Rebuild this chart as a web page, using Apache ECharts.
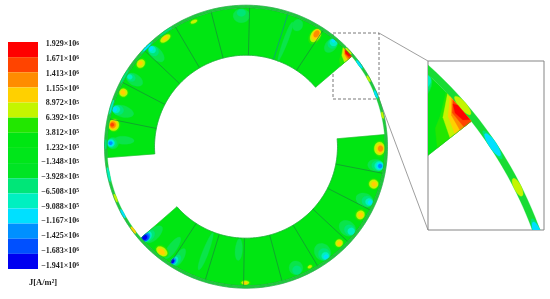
<!DOCTYPE html>
<html>
<head>
<meta charset="utf-8">
<style>
  html, body { margin: 0; padding: 0; background: #fff; }
  #main { width: 550px; height: 299px; filter: blur(0.35px); }
</style>
<script src="https://cdn.jsdelivr.net/npm/echarts@6/dist/echarts.min.js"></script>
</head>
<body>
<div id="main"></div>
<script>
// colour scale, top to bottom
const levelColors = ['#ff0000', '#ff4400', '#ff8c00', '#ffd000', '#c4f500', '#22e700', '#00e612', '#00e61a',
  '#00e424', '#00e678', '#00f0c0', '#00e0ff', '#0090ff', '#0050ff', '#0000f0'];
const tickLabels = ['1.929×10^6', '1.671×10^6', '1.413×10^6', '1.155×10^6', '8.972×10^5', '6.392×10^5',
  '3.812×10^5', '1.232×10^5', '−1.348×10^5', '−3.928×10^5', '−6.508×10^5', '−9.088×10^5',
  '−1.167×10^6', '−1.425×10^6', '−1.683×10^6', '−1.941×10^6'];
// faint tint round the cold spots, between two legend colours
const spotColors = levelColors.concat(['#0ae44a']);

// radii in the units of the outer circle, angles in degrees clockwise from north
const rOuter = 141.5, rRing = 139, rInner = 91.5;
const blocks = [[85, 229], [265.5, 409.5]];
const slotAngles = [101, 117, 133, 149, 165, 181, 197, 213, 281.5, 297.5, 313.5, 329.5, 345.5, 361.5, 377.5, 393.5];
const tealSlots = [377.5];

// [r, angle, dr, dAngle, level]
const spots = [
  // upper block
  [122, 273, 10, 1.9, 15], [133, 271.5, 5.5, 2.5, 15], [134, 271.5, 4.7, 2.1, 9], [135, 271.5, 3.7, 1.6, 10], [135, 271.5, 2.9, 1.25, 11], [135.5, 271.5, 1.9, 0.75, 12],
  [133.5, 279.3, 6, 3, 5], [134, 279.3, 5.2, 2.5, 4], [134.5, 279.3, 4, 1.9, 3], [135, 279.3, 3, 1.4, 2], [135.5, 279.3, 1.8, 0.75, 1],
  [128, 286, 11, 2.6, 15], [133, 286, 5.5, 2.1, 9], [135, 286, 3.7, 1.5, 10], [136.5, 285.8, 2.2, 1, 11],
  [134, 293.8, 5, 2.2, 5], [134, 293.8, 4, 1.7, 4], [134.5, 293.8, 2.5, 1, 3],
  [130, 301, 9, 2.5, 15], [134, 301, 4.4, 1.6, 9], [135.5, 301, 2.5, 1, 10],
  [134, 308.3, 4.7, 2.5, 5], [134, 308.3, 3.7, 1.9, 4], [134.5, 308.3, 2.1, 1, 3],
  [129, 316, 10, 2.5, 15], [133, 316, 5.5, 2, 9], [135, 316, 3.7, 1.4, 10], [136.5, 316, 1.9, 0.9, 11],
  [135, 323.3, 3.7, 3, 5], [135, 323.3, 2.9, 2.4, 4], [135.3, 323.3, 1.6, 1.25, 3],
  [135.5, 337.4, 2.5, 2, 5], [135.5, 337.4, 1.6, 1.4, 4],
  [131, 358, 7, 3.6, 15], [134, 358, 3.6, 1.9, 9],
  [112, 380.5, 21, 1.2, 15], [132, 383, 6, 2.2, 15],
  [130, 392, 8.5, 2.5, 5], [131, 392, 7.2, 2, 4], [132, 392, 5.6, 1.6, 3], [133, 392, 3.7, 1.1, 2],
  [132, 400, 8, 2.4, 15], [134.5, 400, 5, 2, 9], [136, 400, 3.5, 1.6, 10], [137.5, 399.5, 1.8, 0.8, 11],
  // lower block
  [133.5, 90.8, 6, 3.4, 5], [133.5, 90.8, 5.2, 2.8, 4], [134, 90.8, 3.7, 2, 3], [134.5, 90.8, 2.5, 1.25, 2],
  [131, 98.2, 8, 2.7, 15], [133, 98.2, 6, 2.2, 9], [134.5, 98.2, 4.4, 1.9, 10], [135, 98.2, 3.2, 1.4, 11], [135.5, 98.2, 2, 0.9, 12],
  [133, 106.3, 5.6, 2.4, 5], [133, 106.3, 4.5, 1.9, 4], [133.5, 106.3, 2.7, 1.1, 3],
  [130, 114.2, 9, 3, 15], [133, 114.2, 5.6, 2.2, 9], [135, 114.2, 3.7, 1.5, 10], [136, 114.2, 2, 0.9, 11],
  [133, 120.8, 5.2, 2.5, 5], [133.2, 120.8, 4, 1.9, 4], [133.5, 120.8, 2.5, 1.1, 3],
  [130, 128.8, 9, 3.2, 15], [133, 128.8, 5.6, 2.2, 9], [135, 128.8, 3.5, 1.5, 10],
  [134, 136, 4.4, 2.1, 5], [134, 136, 3.5, 1.6, 4], [134.5, 136, 2, 1, 3],
  [130, 144, 9, 3.5, 15], [133, 144, 6, 2.5, 9], [135, 144, 3.7, 1.6, 10], [136, 144, 2, 1, 11],
  [136, 152, 2.2, 1.4, 5], [136, 152, 1.4, 0.9, 4],
  [131, 157.6, 7, 3, 15], [133.5, 157.6, 4.4, 1.9, 9],
  [103, 184, 11, 2, 15],
  [136, 180.3, 2.7, 2.2, 5], [136, 180.3, 1.9, 1.6, 4], [136.5, 180.3, 1.2, 0.9, 3],
  [112, 201, 20, 1.5, 15], [125, 216, 13, 2, 15],
  [127, 226.5, 11, 2.5, 15], [132, 227.5, 7, 2.1, 9], [134, 228, 6, 1.9, 10], [135, 228, 5, 1.6, 12], [135.5, 228, 3.7, 1.4, 13], [136, 228.2, 2.5, 1, 14],
  [134, 218.8, 5, 3.2, 5], [134.3, 218.8, 4, 2.6, 4], [134.8, 218.8, 2.5, 1.6, 3],
  [129, 211, 10, 1.9, 15], [133, 211.5, 6, 1.6, 9], [134.5, 212, 4.4, 1.25, 10], [135.5, 212.4, 3.2, 1, 12], [136, 212.6, 2, 0.6, 14]
];

// [angle, dAngle, level] colour patches in the outer ring
const ringPatches = [
  [47, 1.7, 4], [54, 2.4, 9], [54, 1.9, 11], [61, 1.4, 4], [68, 2.1, 9], [68, 1.6, 11], [77, 1.4, 4],
  [233.5, 1.7, 3], [241.5, 2, 11], [248.5, 1.8, 4], [258.5, 3, 10], [271, 2, 9], [286.5, 3, 10],
  [300, 3.2, 9], [315, 3.4, 9], [315, 2, 11], [325, 3, 9]
];

// the hot corner shown in the close-up, [level, [r, angle], ...]
const hotCorner = [
  [5, [139, 44], [131.8, 46], [127.8, 46.9], [124, 49.5], [139, 49.5]],
  [4, [139, 44.3], [132.3, 46.4], [129.6, 49.5], [139, 49.5]],
  [3, [139, 44.8], [133.9, 46.8], [131.8, 49.5], [139, 49.5]],
  [2, [139, 45.2], [135, 47], [134, 49.5], [139, 49.5]],
  [1, [139, 45.5], [135.8, 46.8], [135.8, 49.5], [139, 49.5]],
  [0, [138, 45.9], [136.5, 47.1], [137, 48.6], [139, 49.2], [139, 46.5]]
];

const insetBox = { x: 428, y: 61, width: 116, height: 169 };
const inkGreen = '#178a3a';

function bandPoints(api, r0, r1, a0, a1) {
  const pts = [];
  const n = Math.max(2, Math.ceil(Math.abs(a1 - a0)));
  for (let i = 0; i <= n; i++) pts.push(api.coord([r1, a0 + (a1 - a0) * i / n]));
  for (let i = n; i >= 0; i--) pts.push(api.coord([r0, a0 + (a1 - a0) * i / n]));
  return pts;
}

function renderPolar(params, api) {
  const shapes = [];
  const isInset = params.seriesIndex === 1;
  const poly = (points, fill) => shapes.push({
    type: 'polygon', shape: { points: points }, style: { fill: fill, stroke: fill, lineWidth: 0.3 }
  });
  const line = (points, color, width) => shapes.push({
    type: 'polyline', shape: { points: points }, style: { stroke: color, lineWidth: width, fill: 'none' }
  });
  const arc = (r, a0, a1) => {
    const pts = [];
    for (let a = a0; a <= a1; a += 1) pts.push(api.coord([r, a]));
    return pts;
  };

  blocks.forEach(b => poly(bandPoints(api, rInner, rRing, b[0], b[1]), levelColors[6]));

  spots.forEach(s => {
    const block = s[1] < 230 ? blocks[0] : blocks[1];
    const pts = [];
    for (let i = 0; i < 28; i++) {
      const t = i / 28 * Math.PI * 2;
      const r = Math.min(rRing, s[0] + s[2] * Math.sin(t));
      const a = Math.max(block[0], Math.min(block[1], s[1] + s[3] * Math.cos(t)));
      pts.push(api.coord([r, a]));
    }
    poly(pts, spotColors[s[4]]);
  });

  poly(bandPoints(api, rRing, rOuter, 0, 360), isInset ? '#18dc34' : '#1fcb3c');
  ringPatches.forEach(s => {
    const pts = [];
    for (let i = 0; i < 24; i++) {
      const t = i / 24 * Math.PI * 2;
      pts.push(api.coord([140.25 + 1.25 * Math.sin(t), s[0] + s[1] * Math.cos(t)]));
    }
    poly(pts, levelColors[s[2]]);
  });

  hotCorner.forEach(h => poly(h.slice(1).map(p => api.coord(p)), levelColors[h[0]]));

  slotAngles.forEach(a => line([api.coord([rInner, a]), api.coord([rRing, a])],
    tealSlots.includes(a) ? '#0f8f8f' : inkGreen, 0.7));
  blocks.forEach(b => {
    line([api.coord([rInner, b[0]]), api.coord([rRing, b[0]])], '#20b030', 0.5);
    line([api.coord([rInner, b[1]]), api.coord([rRing, b[1]])], '#20b030', 0.5);
    line(arc(rInner, b[0], b[1]), '#1ea53a', 0.7);
    if (!isInset) line(arc(rRing, b[0], b[1]), '#1ea53a', 0.6);
  });
  if (!isInset) line(arc(rOuter, 0, 360), '#2aa24a', 0.6);

  return isInset
    ? { type: 'group', clipPath: { type: 'rect', shape: insetBox }, children: shapes }
    : { type: 'group', children: shapes };
}

const chart = echarts.init(document.getElementById('main'), null, { renderer: 'canvas' });
chart.setOption({
  animation: false,
  backgroundColor: '#fff',
  textStyle: { fontFamily: 'Liberation Serif' },
  title: {
    text: 'J[A/m²]', left: 29, top: 278, padding: 0,
    textStyle: { fontFamily: 'Liberation Serif', fontSize: 8.5, fontWeight: 'bold', color: '#222' }
  },
  grid: [
    { left: 8, top: 42, width: 30, height: 227 },
    { left: 80, top: 44.3, width: 1, height: 221.4 }
  ],
  xAxis: [
    { type: 'value', gridIndex: 0, min: 0, max: 1, show: false },
    { type: 'value', gridIndex: 1, min: 0, max: 1, show: false }
  ],
  yAxis: [
    { type: 'category', gridIndex: 0, inverse: true, show: false, data: levelColors.map((c, i) => i) },
    {
      type: 'category', gridIndex: 1, inverse: true, boundaryGap: false, data: tickLabels,
      axisLine: { show: false }, axisTick: { show: false }, splitLine: { show: false },
      axisLabel: {
        margin: 1, interval: 0, color: '#222',
        formatter: v => {
          const p = v.split('^');
          return '{m|' + p[0] + '}{e|' + p[1] + '}';
        },
        rich: {
          m: { fontFamily: 'Liberation Serif', fontSize: 8, fontWeight: 'bold', color: '#222' },
          e: { fontFamily: 'Liberation Serif', fontSize: 5.5, fontWeight: 'bold', color: '#222', verticalAlign: 'top' }
        }
      }
    }
  ],
  polar: [
    { center: [246, 146.7], radius: rOuter },
    { center: [157, 369.4], radius: 407.6 }
  ],
  angleAxis: [
    { polarIndex: 0, min: 0, max: 360, startAngle: 90, show: false },
    { polarIndex: 1, min: 0, max: 360, startAngle: 87.8, show: false }
  ],
  radiusAxis: [
    { polarIndex: 0, min: 0, max: rOuter, show: false },
    { polarIndex: 1, min: 0, max: rOuter, show: false }
  ],
  series: [
    { type: 'custom', coordinateSystem: 'polar', polarIndex: 0, renderItem: renderPolar, data: [[0, 0]], silent: true },
    { type: 'custom', coordinateSystem: 'polar', polarIndex: 1, renderItem: renderPolar, data: [[0, 0]], silent: true },
    {
      type: 'bar', xAxisIndex: 0, yAxisIndex: 0, barWidth: '100%', silent: true,
      data: levelColors.map(c => ({ value: 1, itemStyle: { color: c } }))
    }
  ],
  graphic: [
    { type: 'rect', shape: insetBox, style: { fill: 'none', stroke: '#858585', lineWidth: 1 } },
    { type: 'rect', shape: { x: 333, y: 33, width: 46, height: 66 },
      style: { fill: 'none', stroke: '#555', lineWidth: 0.8, lineDash: [3, 2] } },
    { type: 'line', shape: { x1: 379, y1: 33, x2: 428, y2: 61 }, style: { stroke: '#858585', lineWidth: 0.8 } },
    { type: 'line', shape: { x1: 379, y1: 99, x2: 428, y2: 230 }, style: { stroke: '#858585', lineWidth: 0.8 } }
  ]
});
</script>
</body>
</html>
